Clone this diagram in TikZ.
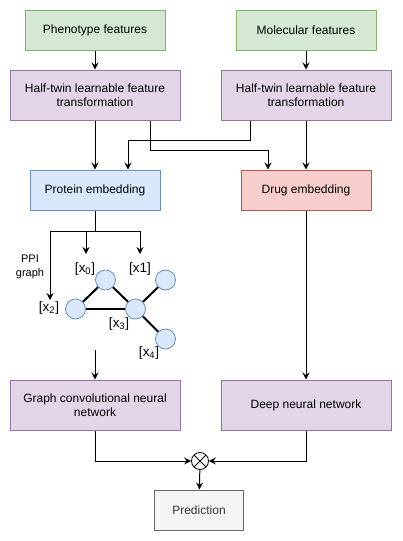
\documentclass[tikz,border=0pt]{standalone}
\usepackage{fontspec}
\setmainfont{Liberation Sans}
\usetikzlibrary{arrows.meta}

\definecolor{phenofill}{HTML}{D5E8D4}
\definecolor{phenoline}{HTML}{82B366}
\definecolor{twinfill}{HTML}{E1D5E7}
\definecolor{twinline}{HTML}{9673A6}
\definecolor{protfill}{HTML}{DAE8FC}
\definecolor{protline}{HTML}{6C8EBF}
\definecolor{drugfill}{HTML}{F8CECC}
\definecolor{drugline}{HTML}{B85450}
\definecolor{predfill}{HTML}{F5F5F5}
\definecolor{predline}{HTML}{666666}
\definecolor{predtext}{HTML}{333333}

\tikzset{
  box/.style={draw, line width=1pt, align=center, inner sep=2pt,
    font=\fontsize{12}{14}\selectfont},
  featbox/.style={box, fill=phenofill, draw=phenoline, minimum width=140pt, minimum height=40pt},
  twinbox/.style={box, fill=twinfill, draw=twinline, minimum width=170pt, minimum height=50pt},
  protbox/.style={box, fill=protfill, draw=protline, minimum width=130pt, minimum height=40pt},
  drugbox/.style={box, fill=drugfill, draw=drugline, minimum width=130pt, minimum height=40pt},
  predbox/.style={box, fill=predfill, draw=predline, text=predtext, minimum width=89pt, minimum height=40pt},
  vertex/.style={circle, draw=protline, fill=protfill, line width=0.8pt, minimum size=20pt, inner sep=0pt},
  vlabel/.style={inner sep=0pt, font=\fontsize{13.5}{15}\selectfont},
  edge/.style={line width=2pt},
  arr/.style={line width=1pt, -{Stealth[length=7pt,width=7pt,inset=2.5pt]}},
  link/.style={line width=1pt}
}

\begin{document}
\begin{tikzpicture}[x=1pt,y=-1pt]

  \useasboundingbox (0,0) rectangle (402,541);

  % Input features
  \node[featbox] (pheno) at (95,30) {Phenotype features};
  \node[featbox] (mol) at (306,30) {Molecular features};

  % Half-twin transformations
  \node[twinbox] (twinl) at (95,95) {Half-twin learnable feature\\transformation};
  \node[twinbox] (twinr) at (306,95) {Half-twin learnable feature\\transformation};

  % Embeddings
  \node[protbox] (prot) at (95,190) {Protein embedding};
  \node[drugbox] (drug) at (306,190) {Drug embedding};

  % Networks
  \node[twinbox] (gcn) at (95,405) {Graph convolutional neural\\network};
  \node[twinbox] (dnn) at (306,405) {Deep neural network};

  % Fusion and output
  \node[circle, draw, line width=0.8pt, minimum size=17pt, inner sep=0pt,
    path picture={
      \draw[line width=0.8pt] (path picture bounding box.north west) -- (path picture bounding box.south east);
      \draw[line width=0.8pt] (path picture bounding box.north east) -- (path picture bounding box.south west);
    }] (fuse) at (200,461) {};
  \node[predbox] (pred) at (199,510) {Prediction};

  % PPI graph
  \node[vertex] (x0) at (105.5,280) {};
  \node[vertex] (x1) at (165.5,280) {};
  \node[vertex] (x2) at (75.5,309) {};
  \node[vertex] (x3) at (135.5,309) {};
  \node[vertex] (x4) at (165.5,339) {};
  \draw[edge] (x2) -- (x0);
  \draw[edge] (x0) -- (x3);
  \draw[edge, line width=2.6pt] (x2) -- (x3);
  \draw[edge] (x3) -- (x1);
  \draw[edge] (x3) -- (x4);

  \node[vlabel] (l0) at (85,269) {[x\textsubscript{0}]};
  \node[vlabel] (l1) at (140,269) {[x1]};
  \node[vlabel] (l2) at (49,308) {[x\textsubscript{2}]};
  \node[vlabel] (l3) at (119,324) {[x\textsubscript{3}]};
  \node[vlabel] (l4) at (149,353) {[x\textsubscript{4}]};
  \node[align=center, inner sep=0pt, font=\fontsize{11}{13.5}\selectfont] (ppi) at (30,267) {PPI\\graph};

  % Arrow ends inside the graph
  \coordinate (a0) at (86,254);
  \coordinate (a1) at (140,254);
  \coordinate (a2) at (50,300);
  \coordinate (gin) at (95,350);

  % Top connectors
  \draw[arr] (pheno) -- (twinl);
  \draw[arr] (mol) -- (twinr);
  \draw[arr] (twinl) -- (prot);
  \draw[arr] (twinr) -- (drug);
  \draw[arr] ([xshift=55pt]twinl.south) -- ++(0,30) -| ([xshift=-38pt]drug.north);
  \draw[arr] ([xshift=-56pt]twinr.south) -- ++(0,20) -| ([xshift=33pt]prot.north);

  % Protein embedding into the graph
  \draw[link] (prot.south) -- ++(0,21) coordinate (split);
  \draw[arr] (split) -| (a2);
  \draw[arr] (split) -| (a1);
  \draw[arr] (split -| a0) -- (a0);
  \draw[arr] (gin) -- (gcn);

  % Drug branch
  \draw[arr] (drug) -- (dnn);

  % Fusion
  \draw[arr] (gcn.south) |- (fuse);
  \draw[arr] (dnn.south) |- (fuse);
  \draw[arr] (fuse) -- (pred);

\end{tikzpicture}
\end{document}
